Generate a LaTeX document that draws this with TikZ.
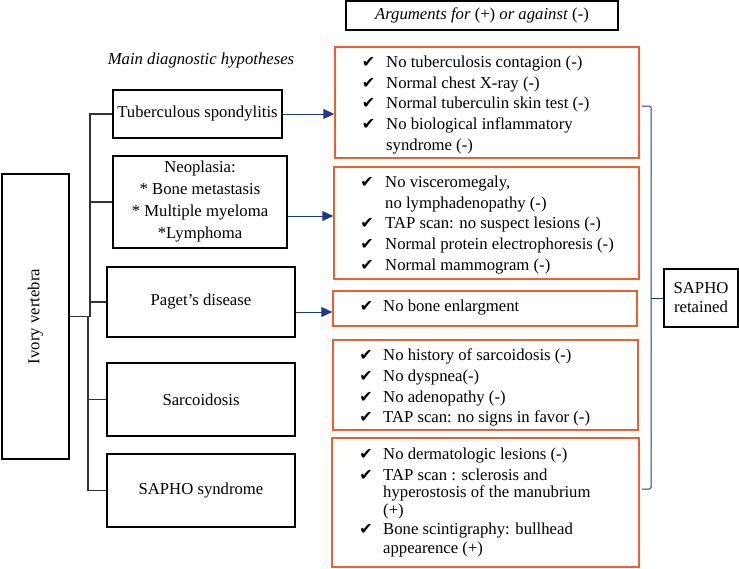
\documentclass[tikz,border=0pt]{standalone}
\usepackage{fontspec}
\setmainfont{Liberation Serif}
\newfontfamily\symf{DejaVu Sans}
\usetikzlibrary{arrows.meta}
\definecolor{obrd}{RGB}{237,95,45}
\definecolor{dblue}{RGB}{30,55,145}
\begin{document}
\begin{tikzpicture}[x=1pt,y=-1pt,
  bbox/.style={draw=black, line width=1.3pt, inner sep=0pt, align=center, font=\fontsize{16.7}{22}\selectfont},
  obox/.style={draw=obrd, line width=1.5pt, inner sep=0pt},
  conn/.style={draw=black!80, line width=1.1pt},
  arr/.style={draw=dblue, line width=1pt, -{Triangle[length=11pt,width=10pt]}},
  chk/.style={font=\symf\fontsize{16}{16}\selectfont, inner sep=0pt, anchor=base},
  itm/.style={font=\fontsize{16.7}{20}\selectfont, inner sep=0pt, anchor=base west},
  lbl/.style={font=\fontsize{16.7}{20}\selectfont, inner sep=0pt}]
\useasboundingbox (0,0) rectangle (739,568);

% header and title
\node[bbox, minimum width=272pt, minimum height=29pt] (hdr) at (482,15.5) {\textit{Arguments for} (+) \textit{or against} (-)};
\node[lbl, font=\itshape\fontsize{16.7}{20}\selectfont] (mdh) at (201,61) {Main diagnostic hypotheses};

% left boxes
\node[bbox, minimum width=67pt, minimum height=285pt] (iv) at (35.5,316.5) {};
\node[lbl, rotate=90] (ivt) at (iv.center) {Ivory vertebra};
\node[bbox, minimum width=169pt, minimum height=48pt] (tb) at (197.5,114) {Tuberculous spondylitis};
\node[bbox, minimum width=174pt, minimum height=92pt] (neo) at (200,202) {Neoplasia:\\* Bone metastasis\\* Multiple myeloma\\*Lymphoma};
\node[bbox, minimum width=188pt, minimum height=70pt] (pag) at (201,302) {Paget’s disease};
\node[bbox, minimum width=188pt, minimum height=73pt] (sar) at (201,399.5) {Sarcoidosis};
\node[bbox, minimum width=188pt, minimum height=73pt] (sap) at (201,490.5) {SAPHO syndrome};
\node[bbox, minimum width=74pt, minimum height=58pt, font=\fontsize{16.7}{19}\selectfont] (ret) at (701,298) {SAPHO\\retained};

% right boxes
\node[obox, minimum width=304pt, minimum height=111pt] (r1) at (487,102.5) {};
\node[obox, minimum width=305pt, minimum height=112pt] (r2) at (486.5,223) {};
\node[obox, minimum width=304pt, minimum height=35pt] (r3) at (485,308.5) {};
\node[obox, minimum width=305pt, minimum height=90pt] (r4) at (485.5,385) {};
\node[obox, minimum width=307pt, minimum height=129pt] (r5) at (485.5,502.5) {};

% tree connectors
\coordinate (t1) at (90,302);
\coordinate (t2) at (88,316.5);
\draw[conn] (tb.west) -| (t1) -- (pag.west);
\draw[conn] (neo.west) -- (neo.west -| t1);
\draw[conn] (t1) -- (t1 |- t2);
\draw[conn, line width=1.7pt] (iv.east) -- (t1 |- t2);
\draw[conn] (t2) -- (t2 |- sap.west) -- (sap.west);
\draw[conn] (sar.west) -- (sar.west -| t2);

% arrows
\draw[arr] (tb.east) -- (tb.east -| r1.west);
\coordinate (na) at ([yshift=-14pt]neo.east);
\draw[arr] (na) -- (na -| r2.west);
\coordinate (pa) at ([yshift=-10pt]pag.east);
\draw[arr] (pa) -- (pa -| r3.west);

% brace
\coordinate (bt) at (642,106);
\coordinate (bb) at (642,489);
\coordinate (bm) at (651,298);
\draw[dblue, line width=1pt, rounded corners=1.5pt] (bt) -- (651,106) -- (651,489) -- (bb);
\draw[dblue, line width=1pt] (bm) -- (bm -| ret.west);

% box 1
\node[chk] (c1a) at (368.5,67.5) {✔}; \node[itm] (i1a) at (386,67.5) {No tuberculosis contagion (-)};
\node[chk] (c1b) at (368.5,88.5) {✔}; \node[itm] (i1b) at (386,88.5) {Normal chest X-ray (-)};
\node[chk] (c1c) at (368.5,108.5) {✔}; \node[itm] (i1c) at (386,108.5) {Normal tuberculin skin test (-)};
\node[chk] (c1d) at (368.5,129.5) {✔}; \node[itm] (i1d) at (386,129.5) {No biological inflammatory};
\node[itm] (i1e) at (386,150.5) {syndrome (-)};

% box 2
\node[chk] (c2a) at (367,187.5) {✔}; \node[itm] (i2a) at (385,187.5) {No visceromegaly,};
\node[itm] (i2b) at (385,208.5) {no lymphadenopathy (-)};
\node[chk] (c2c) at (367,228.5) {✔}; \node[itm] (i2c) at (385,228.5) {TAP scan: no suspect lesions (-)};
\node[chk] (c2d) at (367,249.5) {✔}; \node[itm] (i2d) at (385,249.5) {Normal protein electrophoresis (-)};
\node[chk] (c2e) at (367,270.5) {✔}; \node[itm] (i2e) at (385,270.5) {Normal mammogram (-)};

% box 3
\node[chk] (c3a) at (366.5,311.5) {✔}; \node[itm] (i3a) at (383,311.5) {No bone enlargment};

% box 4
\node[chk] (c4a) at (366,360.5) {✔}; \node[itm] (i4a) at (383,360.5) {No history of sarcoidosis (-)};
\node[chk] (c4b) at (366,381.5) {✔}; \node[itm] (i4b) at (383,381.5) {No dyspnea(-)};
\node[chk] (c4c) at (366,402.5) {✔}; \node[itm] (i4c) at (383,402.5) {No adenopathy (-)};
\node[chk] (c4d) at (366,422.5) {✔}; \node[itm] (i4d) at (383,422.5) {TAP scan: no signs in favor (-)};

% box 5
\node[chk] (c5a) at (366,459.5) {✔}; \node[itm] (i5a) at (383,459.5) {No dermatologic lesions (-)};
\node[chk] (c5b) at (366,480.5) {✔}; \node[itm] (i5b) at (383,480.5) {TAP scan : sclerosis and};
\node[itm] (i5c) at (383,497.5) {hyperostosis of the manubrium};
\node[itm] (i5d) at (383,515.5) {(+)};
\node[chk] (c5e) at (366,534.5) {✔}; \node[itm] (i5e) at (383,534.5) {Bone scintigraphy: bullhead};
\node[itm] (i5f) at (383,553.5) {appearence (+)};
\end{tikzpicture}
\end{document}
